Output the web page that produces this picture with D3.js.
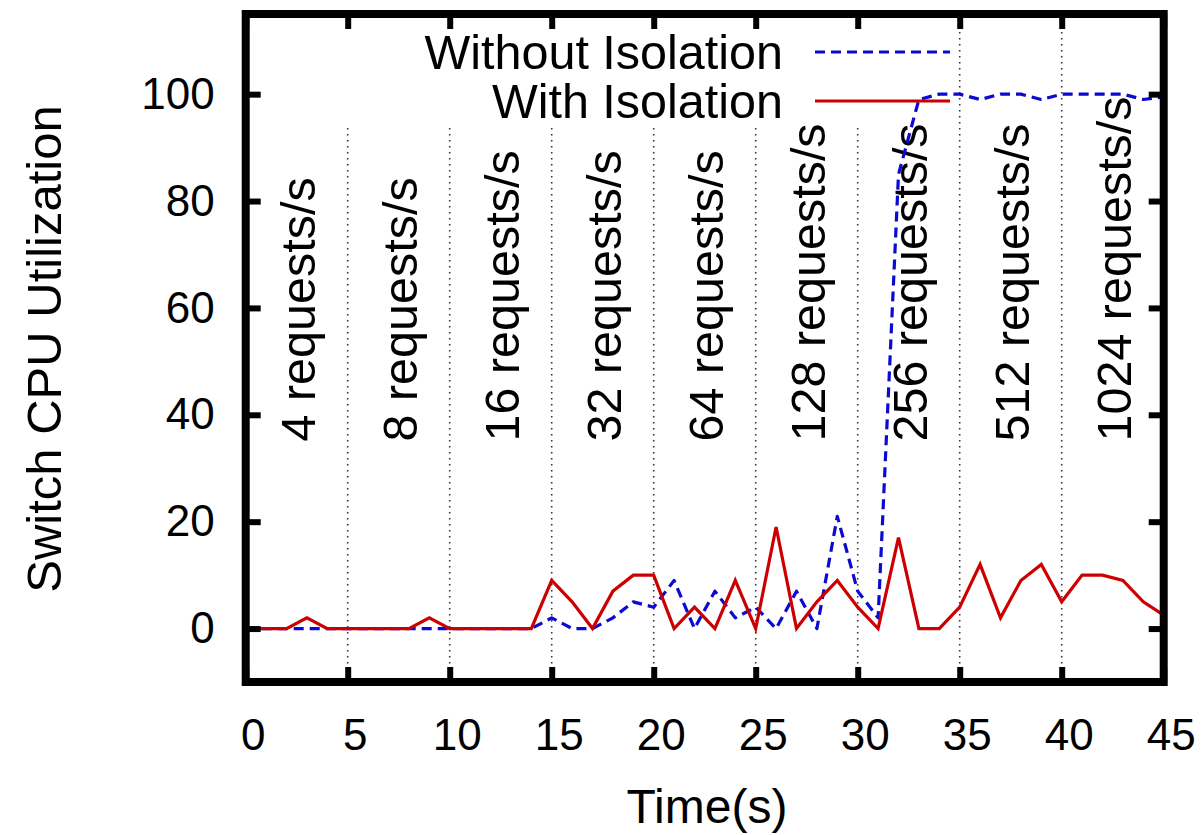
<!DOCTYPE html>
<html>
<head>
<meta charset="utf-8">
<script src="https://cdn.jsdelivr.net/npm/d3@7"></script>
<style>
  html, body { margin: 0; padding: 0; background: #fff; }
  svg { display: block; font-family: "Liberation Sans", Arial, Helvetica, sans-serif; }
</style>
</head>
<body>
<svg id="chart" width="1204" height="835"></svg>
<script>
// ---- data ----
const times = d3.range(0, 46);
const withoutIsolation = [0,0,0,0,0,0,0,0,0,0, 0,0,0,0,0,2,0,0,2,5, 4,9,0,7,2,4,0,7,0,21, 7,2,85,99,100,100,99,100,100,99, 100,100,100,100,99,99.5];
const withIsolation    = [0,0,0,2,0,0,0,0,0,2, 0,0,0,0,0,9,5,0,7,10, 10,0,4,0,9,0,19,0,5,9, 4,0,17,0,0,4,12,2,9,12, 5,10,10,9,5,2.5];
const phaseBounds = [5,10,15,20,25,30,35,40];
const phaseLabels = ["4 requests/s","8 requests/s","16 requests/s","32 requests/s","64 requests/s","128 requests/s","256 requests/s","512 requests/s","1024 requests/s"];
const phaseLabelX = [3.4,8.4,13.4,18.4,23.4,28.4,33.4,38.4,43.4];
const phaseLabelY = 35;
const xTicks = [0,5,10,15,20,25,30,35,40,45];
const yTicks = [0,20,40,60,80,100];
const seriesNames = ["Without Isolation","With Isolation"];

// ---- scales ----
const svg = d3.select("#chart");
const x = d3.scaleLinear().domain([0,45]).range([245.7,1163.7]);
const y = d3.scaleLinear().domain([-10,115]).range([682,14]);

// grid (dotted phase separators)
svg.append("g").selectAll("line").data(phaseBounds).join("line")
  .attr("x1", d => x(d)).attr("x2", d => x(d))
  .attr("y1", y(115)).attr("y2", y(-10))
  .attr("stroke", "#333").attr("stroke-width", 1.6)
  .attr("stroke-dasharray", "1.6,4.4");

// key background (opaque)
svg.append("rect").attr("x", x(0)+4).attr("y", y(115)+4)
  .attr("width", 958 - x(0) - 4).attr("height", 126 - y(115) - 4)
  .attr("fill", "#fff");

// phase labels
svg.append("g").selectAll("text").data(phaseLabels).join("text")
  .attr("transform", (d,i) => `translate(${x(phaseLabelX[i])},${y(phaseLabelY)}) rotate(-90)`)
  .attr("text-anchor", "start")
  .attr("font-size", 48.5)
  .attr("fill", "#000")
  .text(d => d);

// lines
const line = d3.line().x((d,i) => x(times[i])).y(d => y(d));
svg.append("path").datum(withoutIsolation).attr("d", line)
  .attr("fill", "none").attr("stroke", "#0a0ad0").attr("stroke-width", 3.2)
  .attr("stroke-dasharray", "10,6").attr("stroke-linejoin", "round");
svg.append("path").datum(withIsolation).attr("d", line)
  .attr("fill", "none").attr("stroke", "#cc0000").attr("stroke-width", 3.2)
  .attr("stroke-linejoin", "miter");

// legend
const legendY = [52, 101];
const legendStyles = [{c:"#0a0ad0", dash:"10,6"}, {c:"#cc0000", dash:null}];
seriesNames.forEach((name, i) => {
  svg.append("text").attr("x", 783).attr("y", legendY[i] + 17)
    .attr("text-anchor", "end").attr("font-size", 48.5).attr("fill", "#000").text(name);
  const l = svg.append("line").attr("x1", 815).attr("x2", 950)
    .attr("y1", legendY[i]).attr("y2", legendY[i])
    .attr("stroke", legendStyles[i].c).attr("stroke-width", 3.2);
  if (legendStyles[i].dash) l.attr("stroke-dasharray", legendStyles[i].dash);
});

// axes
const tickLen = 15;
const axB = svg.append("g").attr("transform", `translate(0,${y(-10)})`)
  .call(d3.axisBottom(x).tickValues(xTicks).tickSizeInner(-tickLen).tickSizeOuter(0).tickPadding(37).tickFormat(d3.format("d")));
const axT = svg.append("g").attr("transform", `translate(0,${y(115)})`)
  .call(d3.axisTop(x).tickValues(xTicks).tickSizeInner(-tickLen).tickSizeOuter(0).tickFormat(""));
const axL = svg.append("g").attr("transform", `translate(${x(0)},0)`)
  .call(d3.axisLeft(y).tickValues(yTicks).tickSizeInner(-tickLen).tickSizeOuter(0).tickPadding(31).tickFormat(d3.format("d")));
const axR = svg.append("g").attr("transform", `translate(${x(45)},0)`)
  .call(d3.axisRight(y).tickValues(yTicks).tickSizeInner(-tickLen).tickSizeOuter(0).tickFormat(""));
[axB, axT, axL, axR].forEach(a => {
  a.select(".domain").remove();
  a.selectAll(".tick line").attr("stroke", "#000").attr("stroke-width", 6);
  a.selectAll(".tick text").attr("font-size", 44).attr("fill", "#000")
    .style("font-family", "'Liberation Sans', Arial, Helvetica, sans-serif");
});
axB.selectAll(".tick text").attr("dx", 7);

// frame
svg.append("rect").attr("x", x(0)).attr("y", y(115))
  .attr("width", x(45) - x(0)).attr("height", y(-10) - y(115))
  .attr("fill", "none").attr("stroke", "#000").attr("stroke-width", 8);

// axis titles
svg.append("text").attr("x", 707).attr("y", 823).attr("text-anchor", "middle")
  .attr("font-size", 48).attr("fill", "#000").text("Time(s)");
svg.append("text").attr("transform", "translate(61,349) rotate(-90)")
  .attr("text-anchor", "middle").attr("font-size", 49).attr("fill", "#000")
  .text("Switch CPU Utilization");
</script>
</body>
</html>
